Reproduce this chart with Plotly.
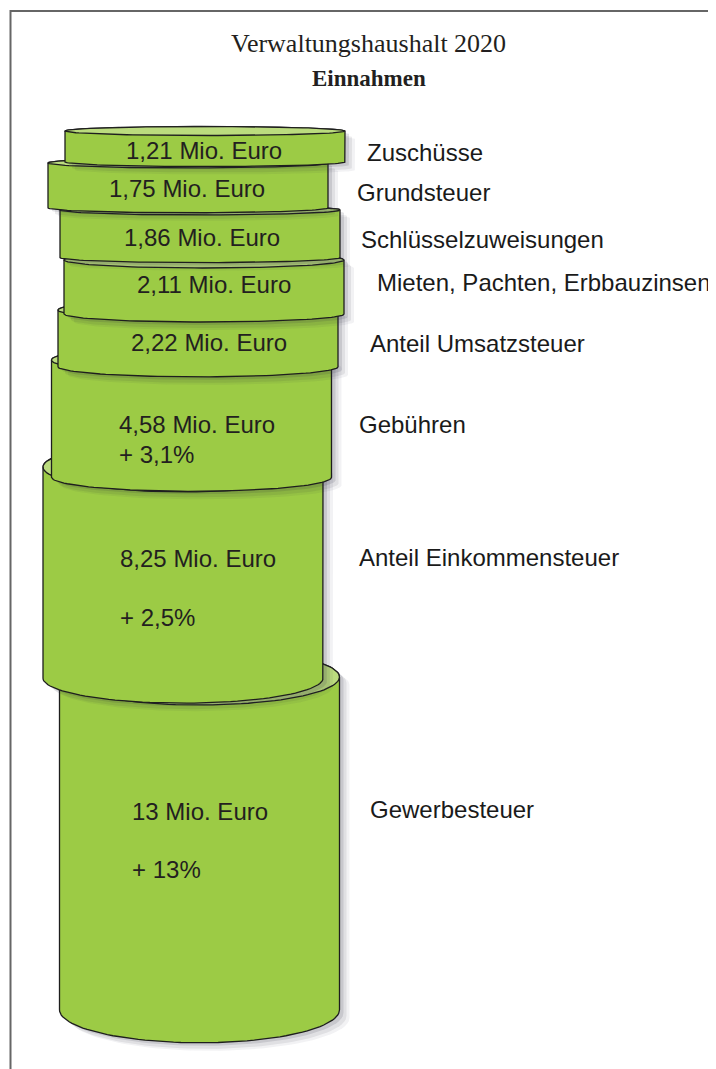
import numpy as np
import plotly.graph_objects as go

# ---------------- data ----------------
categories = ["Zuschüsse", "Grundsteuer", "Schlüsselzuweisungen",
              "Mieten, Pachten, Erbbauzinsen", "Anteil Umsatzsteuer",
              "Gebühren", "Anteil Einkommensteuer", "Gewerbesteuer"]
values = [1.21, 1.75, 1.86, 2.11, 2.22, 4.58, 8.25, 13.0]
value_labels = ["1,21 Mio. Euro", "1,75 Mio. Euro", "1,86 Mio. Euro",
                "2,11 Mio. Euro", "2,22 Mio. Euro", "4,58 Mio. Euro",
                "8,25 Mio. Euro", "13 Mio. Euro"]
change_labels = [None, None, None, None, None, "+ 3,1%", "+ 2,5%", "+ 13%"]
title_main = "Verwaltungshaushalt 2020"
title_sub = "Einnahmen"

# ---------------- layout / style ----------------
PAGE_W, PAGE_H = 716, 1069
OFF = 8                      # default page margin of the html body
W, H = PAGE_W - OFF, PAGE_H - OFF
PX_PER_UNIT = 25.6           # vertical pixels per Mio. Euro
TOP_PX = 131                 # pixel row where the stack starts
cyl_center_x = [205, 188, 200, 204, 198, 191.5, 183, 199.5]
cyl_shift_px = [0, 1, 3.2, 5.6, 1.6, -5.2, -15.5, -16.7]
cyl_half_w = 140
ell_ry_top_px = [4.5, 5, 5, 8, 10, 14, 25, 28]
ell_ry_bot_px = [4.5, 5, 5, 8, 10, 14, 25, 33]
BODY = "#9CCB45"
TOPC = "#BBDC7E"
EDGE = "#1e1e1e"
TXT = "#231F20"
FONT = "Liberation Sans"

val_x = [204, 187, 202, 214, 209, 117, 118, 130]
val_anchor = ["center"] * 5 + ["left"] * 3
val_shift = [4.5, 3.6, 4.2, -3.0, 3.6, 6.3, -13.6, -31.4]   # px downward from mid
chg_shift = [0, 0, 0, 0, 0, 36.3, 45.4, 26.6]
cat_x = [365, 355, 359, 375, 368, 357, 357, 368]
cat_shift = [6.5, 7.6, 6.2, -5.0, 4.6, 6.3, -14.6, -33.4]

y_top = (OFF - TOP_PX) / PX_PER_UNIT
y_bot = (PAGE_H - TOP_PX) / PX_PER_UNIT

starts = np.concatenate([[0], np.cumsum(values)[:-1]])
ends = np.cumsum(values)
mids = starts + np.array(values) / 2
dshift = np.array(cyl_shift_px) / PX_PER_UNIT

fig = go.Figure()
s = np.linspace(0, np.pi, 60)
s2 = np.linspace(0, 2 * np.pi, 120)


def silhouette(cx, yt, yb, a, bt, bb):
    xs = list(cx - a * np.cos(s)) + [cx + a] + list(cx + a * np.cos(s))
    ys = list(yt - bt * np.sin(s)) + [yb] + list(yb + bb * np.sin(s))
    return xs + [xs[0]], ys + [ys[0]]


# draw bottom cylinder first so upper ones overlap
for i in reversed(range(len(values))):
    cx = cyl_center_x[i]
    a = cyl_half_w
    bt = ell_ry_top_px[i] / PX_PER_UNIT
    bb = ell_ry_bot_px[i] / PX_PER_UNIT
    yt, yb = starts[i] + dshift[i], ends[i] + dshift[i]
    # soft shadow to the lower right
    for dx, dy, op in [(10, 8, 0.06), (7, 6, 0.09), (4, 3, 0.13)]:
        xs, ys = silhouette(cx + dx, yt + dy / PX_PER_UNIT,
                            yb + dy / PX_PER_UNIT, a, bt, bb)
        fig.add_trace(go.Scatter(x=xs, y=ys, mode="lines", fill="toself",
                                 fillcolor=f"rgba(40,40,60,{op})",
                                 line=dict(width=0), hoverinfo="skip",
                                 showlegend=False))
    xs, ys = silhouette(cx, yt, yb, a, bt, bb)
    fig.add_trace(go.Scatter(x=xs, y=ys, mode="lines", fill="toself",
                             fillcolor=BODY, line=dict(color=EDGE, width=1.3),
                             hoverinfo="skip", showlegend=False))
    fig.add_trace(go.Scatter(x=cx + a * np.cos(s2), y=yt + bt * np.sin(s2),
                             mode="lines", fill="toself", fillcolor=TOPC,
                             line=dict(color=EDGE, width=1.3),
                             hoverinfo="skip", showlegend=False))

ann = []
for i in range(len(values)):
    ym = mids[i] + dshift[i]
    ann.append(dict(x=val_x[i], y=ym, xref="x", yref="y",
                    text=value_labels[i], showarrow=False,
                    xanchor=val_anchor[i], yanchor="middle",
                    yshift=-val_shift[i],
                    font=dict(family=FONT, size=24, color=TXT)))
    if change_labels[i]:
        ann.append(dict(x=val_x[i], y=ym, xref="x", yref="y",
                        text=change_labels[i], showarrow=False,
                        xanchor="left", yanchor="middle",
                        yshift=-chg_shift[i],
                        font=dict(family=FONT, size=24, color=TXT)))
    ann.append(dict(x=cat_x[i], y=ym, xref="x", yref="y",
                    text=categories[i], showarrow=False,
                    xanchor="left", yanchor="middle",
                    yshift=-cat_shift[i],
                    font=dict(family=FONT, size=24, color="#1a1a1a")))


def px(xr):
    return (xr - OFF) / W


def py(yr):
    return 1 - (yr - OFF) / H


ann.append(dict(x=px(368), y=py(44), xref="paper", yref="paper",
                text=title_main, showarrow=False, xanchor="center",
                yanchor="middle",
                font=dict(family="Liberation Serif", size=26, color=TXT)))
ann.append(dict(x=px(369), y=py(78), xref="paper", yref="paper",
                text=f"<b>{title_sub}</b>", showarrow=False, xanchor="center",
                yanchor="middle",
                font=dict(family="Liberation Serif", size=23, color=TXT)))

shapes = [
    dict(type="line", xref="paper", yref="paper", x0=px(10), x1=1,
         y0=py(11), y1=py(11), line=dict(color="#666666", width=2)),
    dict(type="line", xref="paper", yref="paper", x0=px(10.5), x1=px(10.5),
         y0=0, y1=py(10), line=dict(color="#666666", width=2)),
]

fig.update_layout(
    width=W, height=H, margin=dict(l=0, r=0, t=0, b=0),
    paper_bgcolor="white", plot_bgcolor="white",
    xaxis=dict(range=[OFF, PAGE_W], visible=False, fixedrange=True),
    yaxis=dict(range=[y_bot, y_top], visible=False, fixedrange=True),
    annotations=ann, shapes=shapes, showlegend=False,
)

fig.write_html("out.html")
